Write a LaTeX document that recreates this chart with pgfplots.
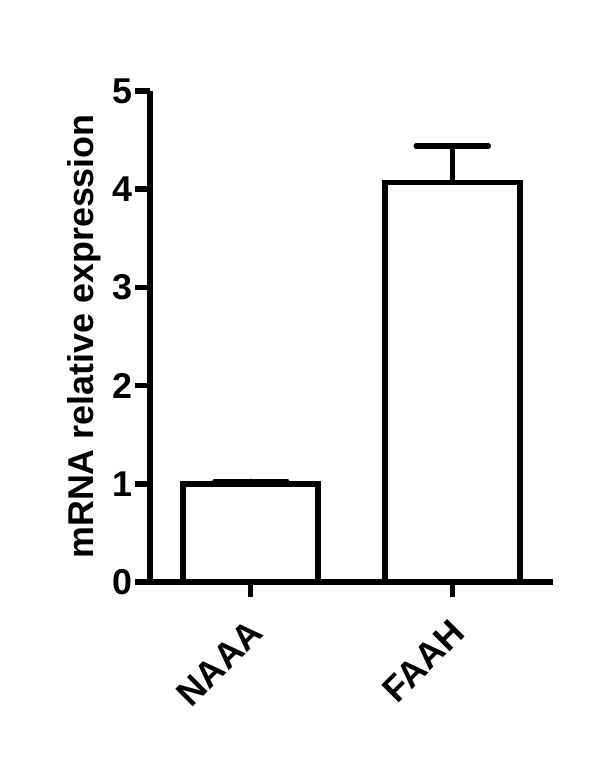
\documentclass[border=0pt]{standalone}
\usepackage{pgfplots}
\pgfplotsset{compat=1.18}
\usepackage{fontspec}
\setmainfont{Liberation Sans}
\begin{document}
\begin{tikzpicture}
\useasboundingbox (-150bp,-178bp) rectangle (450bp,582bp);
\begin{axis}[
	scale only axis, width=403bp, height=491bp,
	at={(0,0)}, anchor=south west,
	xmin=0.5, xmax=2.5, ymin=0, ymax=5,
	axis x line*=bottom, axis y line*=left,
	axis line style={line width=5.5bp, -},
	x axis line style={shorten <=-14bp},
	xtick={1,2}, xticklabels={NAAA,FAAH},
	ytick={0,1,2,3,4,5},
	tick align=outside, major tick length=15bp,
	every tick/.style={line width=5.5bp, black},
	/pgf/number format/assume math mode=true,
	tick label style={font=\fontsize{36}{40}\selectfont\bfseries},
	yticklabel style={inner sep=2bp},
	xticklabel style={yshift=-28bp, xshift=7bp, rotate=45, anchor=east, inner sep=2bp},
	ylabel={mRNA relative expression},
	ylabel style={font=\fontsize{36}{40}\selectfont\bfseries},
	ylabel shift=6bp,
	clip=false,
]
\addplot[ybar, bar width=135bp, bar shift=0pt, fill=white, draw=black,
	line width=5.5bp,
	error bars/.cd, y dir=plus, y explicit,
	error bar style={line width=5.5bp, line cap=round},
	error mark options={rotate=90, mark size=36bp, line width=5.5bp, line cap=round}]
	coordinates {
	(1, 1.00) +- (0, 0.025)
	(2, 4.07) +- (0, 0.37)
};
\end{axis}
\end{tikzpicture}
\end{document}
